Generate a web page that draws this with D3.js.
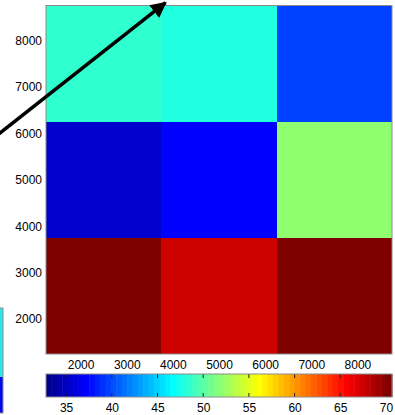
<!DOCTYPE html>
<html>
<head>
<meta charset="utf-8">
<script src="https://cdn.jsdelivr.net/npm/d3@7"></script>
<style>
  html, body { margin: 0; padding: 0; background: #fff; }
  svg { display: block; }
  text { font-family: "Liberation Sans", Arial, Helvetica, sans-serif; fill: #000; }
</style>
</head>
<body>
<svg id="chart" width="395" height="415"></svg>
<script>
// Grid cell centres (x and y share the same spacing)
const xCenters = [2500, 5000, 7500];
const yCenters = [2500, 5000, 7500];
const cellSize = 2500;

// Cell values, one row per y centre (bottom row first)
const rowLow  = [70.66, 67.4, 70.3];
const rowMid  = [35.5, 37.2, 52.0];
const rowHigh = [48.5, 47.9, 39.6];
const values = [rowLow, rowMid, rowHigh];

// Axis tick labels
const xTicks = [2000, 3000, 4000, 5000, 6000, 7000, 8000];
const yTicks = [2000, 3000, 4000, 5000, 6000, 7000, 8000];
const cTicks = [35, 40, 45, 50, 55, 60, 65, 70];

// Colour limits
const cMin = 32.8;
const cMax = 70.66;

// Annotation arrow, in data units: [start, tip]
const arrowFrom = [0, 5810];
const arrowTo = [3840, 8810];

// MATLAB-style jet colormap with 64 entries
function jet(m) {
  const n = Math.ceil(m / 4);
  const u = [];
  for (let i = 1; i <= n; i++) u.push(i / n);
  for (let i = 1; i < n; i++) u.push(1);
  for (let i = n; i >= 1; i--) u.push(i / n);
  const off = Math.ceil(n / 2) - (m % 4 === 1 ? 1 : 0);
  const J = Array.from({length: m}, () => [0, 0, 0]);
  const g = u.map((_, i) => off + i + 1);
  const r = g.map(v => v + n).filter(v => v <= m);
  const b = g.map(v => v - n).filter(v => v >= 1);
  const gk = g.filter(v => v <= m);
  r.forEach((row, i) => J[row - 1][0] = u[i]);
  gk.forEach((row, i) => J[row - 1][1] = u[i]);
  b.forEach((row, i) => J[row - 1][2] = u[u.length - b.length + i]);
  return J.map(c => d3.rgb(c[0] * 255, c[1] * 255, c[2] * 255).formatHex());
}
const cmap = jet(64);
const colorIndex = d3.scaleQuantize().domain([cMin, cMax]).range(d3.range(64));
const color = v => cmap[colorIndex(Math.min(Math.max(v, cMin), cMax))];

const svg = d3.select("#chart");
const plot = {left: 46, right: 392, top: 5.5, bottom: 354};
const cbar = {top: 374, bottom: 397};
const fontSize = 12;

const x = d3.scaleLinear()
  .domain([xCenters[0] - cellSize / 2, xCenters[xCenters.length - 1] + cellSize / 2])
  .range([plot.left, plot.right]);
const y = d3.scaleLinear()
  .domain([yCenters[0] - cellSize / 2, yCenters[yCenters.length - 1] + cellSize / 2])
  .range([plot.bottom, plot.top]);

// Fragment of a neighbouring vertical colourbar at the left edge
const sideBar = svg.append("g");
sideBar.append("rect").attr("x", -10).attr("y", 308).attr("width", 13).attr("height", 70)
  .attr("fill", "#2fe6e6");
sideBar.append("rect").attr("x", -10).attr("y", 377).attr("width", 13).attr("height", 36)
  .attr("fill", "#0008f0");
sideBar.append("rect").attr("x", -10).attr("y", 308).attr("width", 13).attr("height", 105)
  .attr("fill", "none").attr("stroke", "#8c8c8c").attr("stroke-width", 1);

// Heatmap cells
const cells = [];
values.forEach((row, j) => row.forEach((v, i) => cells.push({x: xCenters[i], y: yCenters[j], v})));
svg.append("g").selectAll("rect").data(cells).join("rect")
  .attr("x", d => x(d.x - cellSize / 2))
  .attr("y", d => y(d.y + cellSize / 2))
  .attr("width", d => x(d.x + cellSize / 2) - x(d.x - cellSize / 2))
  .attr("height", d => y(d.y - cellSize / 2) - y(d.y + cellSize / 2))
  .attr("fill", d => color(d.v))
  .attr("shape-rendering", "crispEdges");

// Axes frame
svg.append("rect")
  .attr("x", plot.left).attr("y", plot.top)
  .attr("width", plot.right - plot.left).attr("height", plot.bottom - plot.top)
  .attr("fill", "none").attr("stroke", "#8c8c8c").attr("stroke-width", 1);

// Tick labels (tick marks sit beneath the image)
const xAxis = d3.axisBottom(x).tickValues(xTicks).tickSize(0).tickPadding(6).tickFormat(d3.format("d"));
const gx = svg.append("g").attr("transform", `translate(0,${plot.bottom})`).call(xAxis);
gx.select(".domain").remove();
gx.selectAll("text").attr("font-size", fontSize).attr("font-family", "Liberation Sans, Arial, sans-serif");

const yAxis = d3.axisLeft(y).tickValues(yTicks).tickSize(0).tickPadding(4).tickFormat(d3.format("d"));
const gy = svg.append("g").attr("transform", `translate(${plot.left},0)`).call(yAxis);
gy.select(".domain").remove();
gy.selectAll("text").attr("font-size", fontSize).attr("font-family", "Liberation Sans, Arial, sans-serif");

// Horizontal colourbar
const c = d3.scaleLinear().domain([cMin, cMax]).range([plot.left, plot.right]);
const bands = d3.range(64).map(i => ({
  lo: cMin + (cMax - cMin) * i / 64,
  hi: cMin + (cMax - cMin) * (i + 1) / 64,
  col: cmap[i]
}));
svg.append("g").selectAll("rect").data(bands).join("rect")
  .attr("x", d => c(d.lo))
  .attr("y", cbar.top)
  .attr("width", d => c(d.hi) - c(d.lo) + 0.5)
  .attr("height", cbar.bottom - cbar.top)
  .attr("fill", d => d.col);

const tickG = svg.append("g");
tickG.selectAll("line.top").data(cTicks).join("line").attr("class", "top")
  .attr("x1", d => c(d)).attr("x2", d => c(d))
  .attr("y1", cbar.top).attr("y2", cbar.top + 4)
  .attr("stroke", "#222").attr("stroke-width", 1);
tickG.selectAll("line.bot").data(cTicks).join("line").attr("class", "bot")
  .attr("x1", d => c(d)).attr("x2", d => c(d))
  .attr("y1", cbar.bottom - 4).attr("y2", cbar.bottom)
  .attr("stroke", "#222").attr("stroke-width", 1);

svg.append("rect")
  .attr("x", plot.left).attr("y", cbar.top)
  .attr("width", plot.right - plot.left).attr("height", cbar.bottom - cbar.top)
  .attr("fill", "none").attr("stroke", "#8c8c8c").attr("stroke-width", 1);

const cAxis = d3.axisBottom(c).tickValues(cTicks).tickSize(0).tickPadding(6).tickFormat(d3.format("d"));
const gc = svg.append("g").attr("transform", `translate(0,${cbar.bottom})`).call(cAxis);
gc.select(".domain").remove();
gc.selectAll("text").attr("font-size", fontSize).attr("font-family", "Liberation Sans, Arial, sans-serif");

// Annotation arrow
const defs = svg.append("defs");
defs.append("marker")
  .attr("id", "head").attr("viewBox", "0 0 10 10")
  .attr("refX", 9).attr("refY", 5)
  .attr("markerUnits", "userSpaceOnUse")
  .attr("markerWidth", 16).attr("markerHeight", 16)
  .attr("orient", "auto")
  .append("path").attr("d", "M0,0 L10,5 L0,10 Z").attr("fill", "#000");

svg.append("line")
  .attr("x1", x(arrowFrom[0])).attr("y1", y(arrowFrom[1]))
  .attr("x2", x(arrowTo[0])).attr("y2", y(arrowTo[1]))
  .attr("stroke", "#000").attr("stroke-width", 3.5)
  .attr("marker-end", "url(#head)");
</script>
</body>
</html>
